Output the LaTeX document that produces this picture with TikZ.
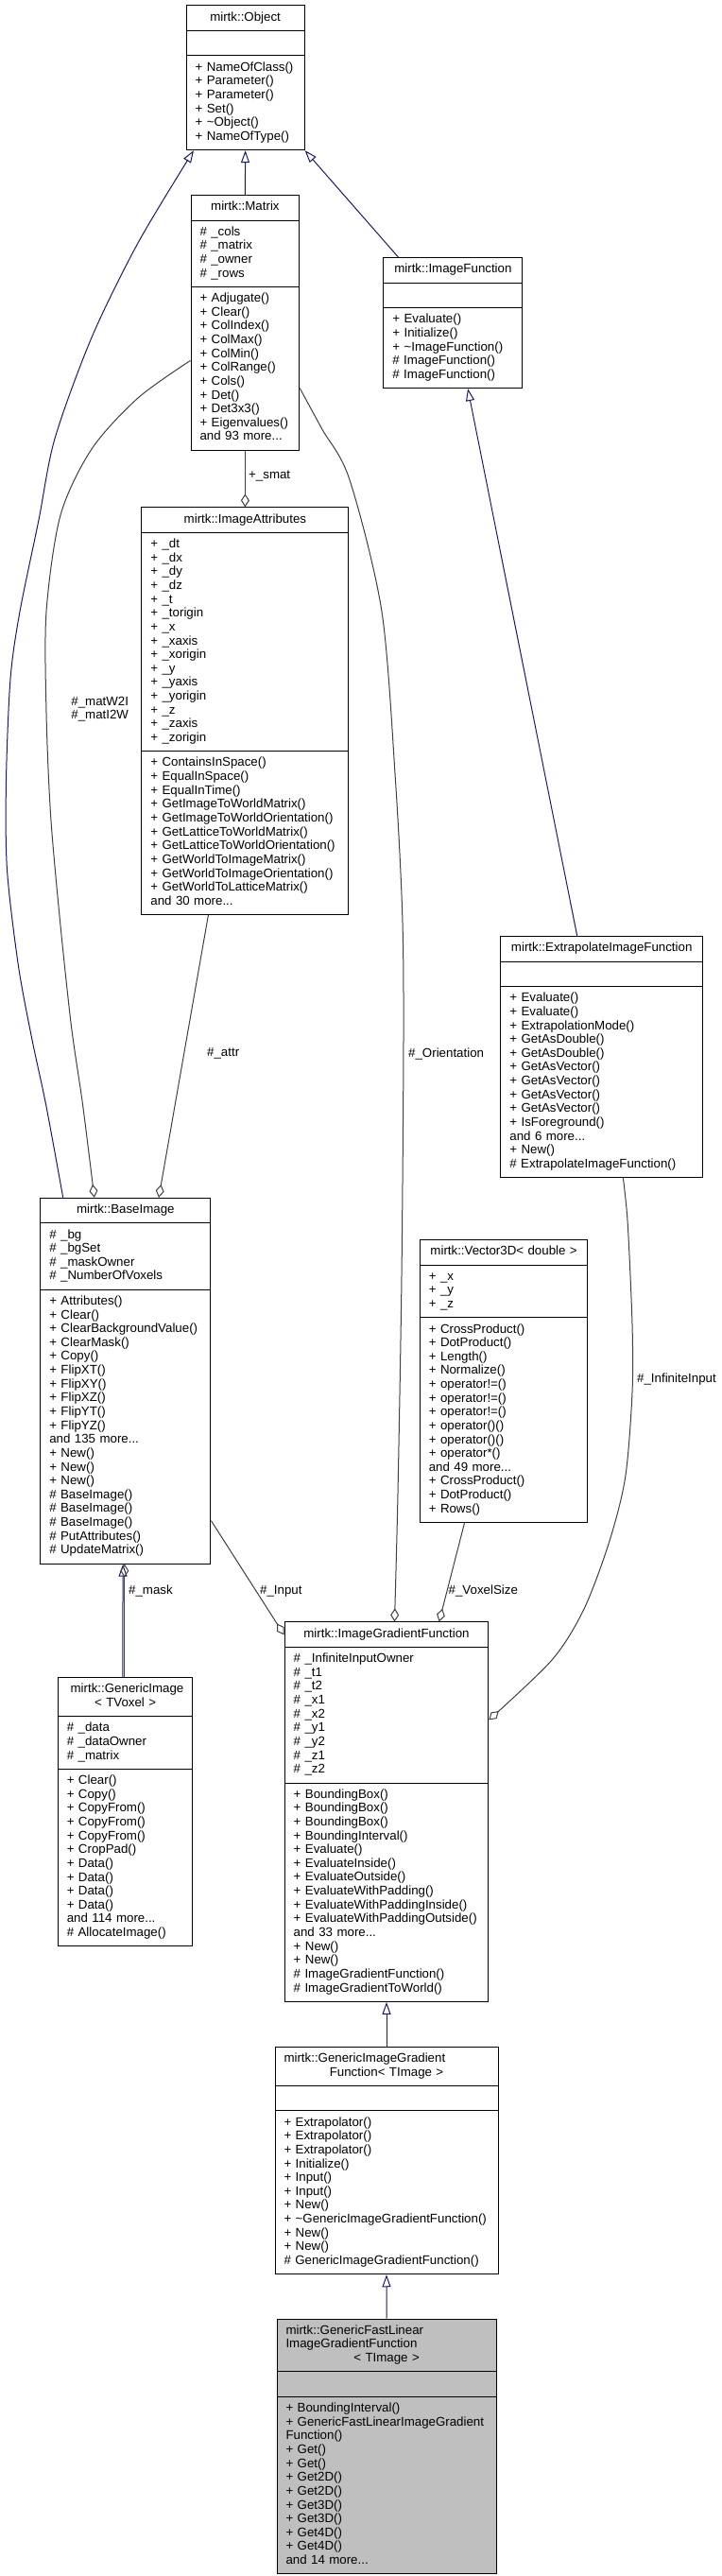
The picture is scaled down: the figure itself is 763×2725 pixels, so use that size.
\documentclass[tikz,border=0pt]{standalone}
\usepackage{fontspec}
\setmainfont{Liberation Sans}
\usepackage{tikz}
\usetikzlibrary{
	arrows.meta,
	calc,
	shapes.multipart
}
\definecolor{InheritBlue}{RGB}{25,25,112}
\definecolor{UseGray}{RGB}{64,64,64}
\definecolor{FocusGray}{RGB}{191,191,191}

\begin{document}
\begin{tikzpicture}[x=1pt, y=-1pt, font=\fontsize{13.3}{14.63}\selectfont,
	classbox/.style={draw=black, line width=1pt, fill=white, rectangle split, rectangle split parts=3,
		anchor=north west, inner xsep=9.5pt, inner ysep=5.45pt, align=left, text width=#1,
		execute at begin node=\strut, execute at end node=\strut},
	inherit/.style={draw=InheritBlue, line width=1pt, -{Triangle[open, length=13pt, width=9pt]}},
	assoc/.style={draw=UseGray, line width=1pt, -{Diamond[open, length=14pt, width=9pt]}},
	edgelabel/.style={inner sep=0pt, anchor=west, align=left}]
	\useasboundingbox (0,0) rectangle (763,2725);

	% classes
	\node[classbox=106pt] (obj) at (196.6,5.4) {\hspace*{\fill}mirtk::Object\hspace*{\fill}%
		\nodepart{two}%
		\nodepart{three}+ NameOfClass()\\+ Parameter()\\+ Parameter()\\+ Set()\\+ \textasciitilde Object()\\+ NameOfType()};
	\node[classbox=95.8pt] (matrix) at (201.5,206) {\hspace*{\fill}mirtk::Matrix\hspace*{\fill}%
		\nodepart{two}\# \_cols\\\# \_matrix\\\# \_owner\\\# \_rows%
		\nodepart{three}+ Adjugate()\\+ Clear()\\+ ColIndex()\\+ ColMax()\\+ ColMin()\\+ ColRange()\\+ Cols()\\+ Det()\\+ Det3x3()\\+ Eigenvalues()\\and 93 more...};
	\node[classbox=128pt] (imgfunc) at (405.4,272) {\hspace*{\fill}mirtk::ImageFunction\hspace*{\fill}%
		\nodepart{two}%
		\nodepart{three}+ Evaluate()\\+ Initialize()\\+ \textasciitilde ImageFunction()\\\# ImageFunction()\\\# ImageFunction()};
	\node[classbox=200pt] (imgattr) at (149.4,536.4) {\hspace*{\fill}mirtk::ImageAttributes\hspace*{\fill}%
		\nodepart{two}+ \_dt\\+ \_dx\\+ \_dy\\+ \_dz\\+ \_t\\+ \_torigin\\+ \_x\\+ \_xaxis\\+ \_xorigin\\+ \_y\\+ \_yaxis\\+ \_yorigin\\+ \_z\\+ \_zaxis\\+ \_zorigin%
		\nodepart{three}+ ContainsInSpace()\\+ EqualInSpace()\\+ EqualInTime()\\+ GetImageToWorldMatrix()\\+ GetImageToWorldOrientation()\\+ GetLatticeToWorldMatrix()\\+ GetLatticeToWorldOrientation()\\+ GetWorldToImageMatrix()\\+ GetWorldToImageOrientation()\\+ GetWorldToLatticeMatrix()\\and 30 more...};
	\node[classbox=194.6pt] (extrap) at (529.4,990) {\hspace*{\fill}mirtk::ExtrapolateImageFunction\hspace*{\fill}%
		\nodepart{two}%
		\nodepart{three}+ Evaluate()\\+ Evaluate()\\+ ExtrapolationMode()\\+ GetAsDouble()\\+ GetAsDouble()\\+ GetAsVector()\\+ GetAsVector()\\+ GetAsVector()\\+ GetAsVector()\\+ IsForeground()\\and 6 more...\\+ New()\\\# ExtrapolateImageFunction()};
	\node[classbox=161.1pt] (baseimg) at (42.3,1266.8) {\hspace*{\fill}mirtk::BaseImage\hspace*{\fill}%
		\nodepart{two}\# \_bg\\\# \_bgSet\\\# \_maskOwner\\\# \_NumberOfVoxels%
		\nodepart{three}+ Attributes()\\+ Clear()\\+ ClearBackgroundValue()\\+ ClearMask()\\+ Copy()\\+ FlipXT()\\+ FlipXY()\\+ FlipXZ()\\+ FlipYT()\\+ FlipYZ()\\and 135 more...\\+ New()\\+ New()\\+ New()\\\# BaseImage()\\\# BaseImage()\\\# BaseImage()\\\# PutAttributes()\\\# UpdateMatrix()};
	\node[classbox=158.6pt] (vec3d) at (443.8,1311) {\hspace*{\fill}mirtk::Vector3D<~double~>\hspace*{\fill}%
		\nodepart{two}+ \_x\\+ \_y\\+ \_z%
		\nodepart{three}+ CrossProduct()\\+ DotProduct()\\+ Length()\\+ Normalize()\\+ operator!=()\\+ operator!=()\\+ operator!=()\\+ operator()()\\+ operator()()\\+ operator*()\\and 49 more...\\+ CrossProduct()\\+ DotProduct()\\+ Rows()};
	\node[classbox=196.6pt] (igf) at (300.7,1715.4) {\hspace*{\fill}mirtk::ImageGradientFunction\hspace*{\fill}%
		\nodepart{two}\# \_InfiniteInputOwner\\\# \_t1\\\# \_t2\\\# \_x1\\\# \_x2\\\# \_y1\\\# \_y2\\\# \_z1\\\# \_z2%
		\nodepart{three}+ BoundingBox()\\+ BoundingBox()\\+ BoundingBox()\\+ BoundingInterval()\\+ Evaluate()\\+ EvaluateInside()\\+ EvaluateOutside()\\+ EvaluateWithPadding()\\+ EvaluateWithPaddingInside()\\+ EvaluateWithPaddingOutside()\\and 33 more...\\+ New()\\+ New()\\\# ImageGradientFunction()\\\# ImageGradientToWorld()};
	\node[classbox=123.6pt] (genimg) at (60.8,1774) {\hspace*{\fill}mirtk::GenericImage\hspace*{\fill}\\\hspace*{\fill}<~TVoxel~>\hspace*{\fill}%
		\nodepart{two}\# \_data\\\# \_dataOwner\\\# \_matrix%
		\nodepart{three}+ Clear()\\+ Copy()\\+ CopyFrom()\\+ CopyFrom()\\+ CopyFrom()\\+ CropPad()\\+ Data()\\+ Data()\\+ Data()\\+ Data()\\and 114 more...\\\# AllocateImage()};
	\node[classbox=217pt] (gigf) at (290.5,2164.7) {mirtk::GenericImageGradient\\\hspace*{\fill}Function<~TImage~>\hspace*{\fill}%
		\nodepart{two}%
		\nodepart{three}+ Extrapolator()\\+ Extrapolator()\\+ Extrapolator()\\+ Initialize()\\+ Input()\\+ Input()\\+ New()\\+ \textasciitilde GenericImageGradientFunction()\\+ New()\\+ New()\\\# GenericImageGradientFunction()};
	\node[classbox=213.1pt, fill=FocusGray] (gfl) at (292.5,2452.6) {mirtk::GenericFastLinear\\ImageGradientFunction\\\hspace*{\fill}<~TImage~>\hspace*{\fill}%
		\nodepart{two}%
		\nodepart{three}+ BoundingInterval()\\+ GenericFastLinearImageGradient\\Function()\\+ Get()\\+ Get()\\+ Get2D()\\+ Get2D()\\+ Get3D()\\+ Get3D()\\+ Get4D()\\+ Get4D()\\and 14 more...};

	% end points on the boxes
	\coordinate (bi-obj) at ($(baseimg.north west)+(24.4,0)$);
	\coordinate (obj-bi) at ($(obj.south west)+(8.4,0)$);
	\coordinate (mx-bi) at ($(matrix.north west)+(0,175.4)$);
	\coordinate (bi-mx) at ($(baseimg.north west)+(57.5,0)$);
	\coordinate (mx-igf) at ($(matrix.north east)+(0,204.7)$);
	\coordinate (igf-mx) at ($(igf.north west)+(116.8,0)$);
	\coordinate (ex-igf) at ($(extrap.south west)+(130,0)$);
	\coordinate (igf-ex) at ($(igf.north east)+(0,104)$);

	% inheritance
	\draw[inherit] (matrix.north) -- (obj.south);
	\draw[inherit] ($(imgfunc.north west)+(16,0)$) -- (obj.south east);
	\draw[inherit] plot[smooth] coordinates {(bi-obj) (48.7,1169) (34,1100) (19.5,1022) (7.5,920) (6.5,826) (11,718) (21,647) (41,550) (58,464) (97,357) (146,257) (obj-bi)};
	\draw[inherit] ($(extrap.north west)+(81.3,0)$) -- ($(imgfunc.south west)+(89.6,0)$);
	\draw[inherit] ($(genimg.north west)+(69,0)$) -- ($(baseimg.south west)+(87.8,0)$);
	\draw[inherit] (gigf.north) -- (igf.south);
	\draw[inherit] (gfl.north) -- (gigf.south);

	% members
	\draw[assoc] (matrix.south) -- (imgattr.north);
	\draw[assoc] plot[smooth] coordinates {(mx-bi) (146,421) (97,475) (64,545) (49,647) (49,754) (53.5,861) (63,969) (75.4,1085) (87.6,1169) (bi-mx)};
	\draw[assoc] ($(imgattr.south west)+(71,0)$) -- ($(baseimg.north west)+(125.7,0)$);
	\draw[assoc] plot[smooth] coordinates {(mx-igf) (340.6,453.6) (369.8,507) (404,647) (418.5,826) (425.8,969) (427,1100) (425,1350) (421,1580) (igf-mx)};
	\draw[assoc] ($(vec3d.south west)+(47.7,0)$) -- ($(igf.north west)+(164,0)$);
	\draw[assoc] ($(baseimg.north east)+(0,341.8)$) -- ($(igf.north west)+(0,14)$);
	\draw[assoc] plot[smooth] coordinates {(ex-igf) (664.2,1294) (669,1401) (669,1473) (661.8,1562) (645,1630) (618,1702) (584,1756) (igf-ex)};
	\draw[assoc] ($(genimg.north west)+(71,0)$) -- ($(baseimg.south west)+(89.5,0)$);

	% labels
	\node[edgelabel] (l-smat) at (263,503.6) {+\_smat};
	\node[edgelabel] (l-mat) at (75.2,750) {\#\_matW2I\\\#\_matI2W};
	\node[edgelabel] (l-attr) at (219,1114.6) {\#\_attr};
	\node[edgelabel] (l-orient) at (432,1114.6) {\#\_Orientation};
	\node[edgelabel] (l-inf) at (674,1458.6) {\#\_InfiniteInput};
	\node[edgelabel] (l-mask) at (136,1683) {\#\_mask};
	\node[edgelabel] (l-input) at (275,1683) {\#\_Input};
	\node[edgelabel] (l-voxel) at (474.5,1683) {\#\_VoxelSize};
\end{tikzpicture}
\end{document}
